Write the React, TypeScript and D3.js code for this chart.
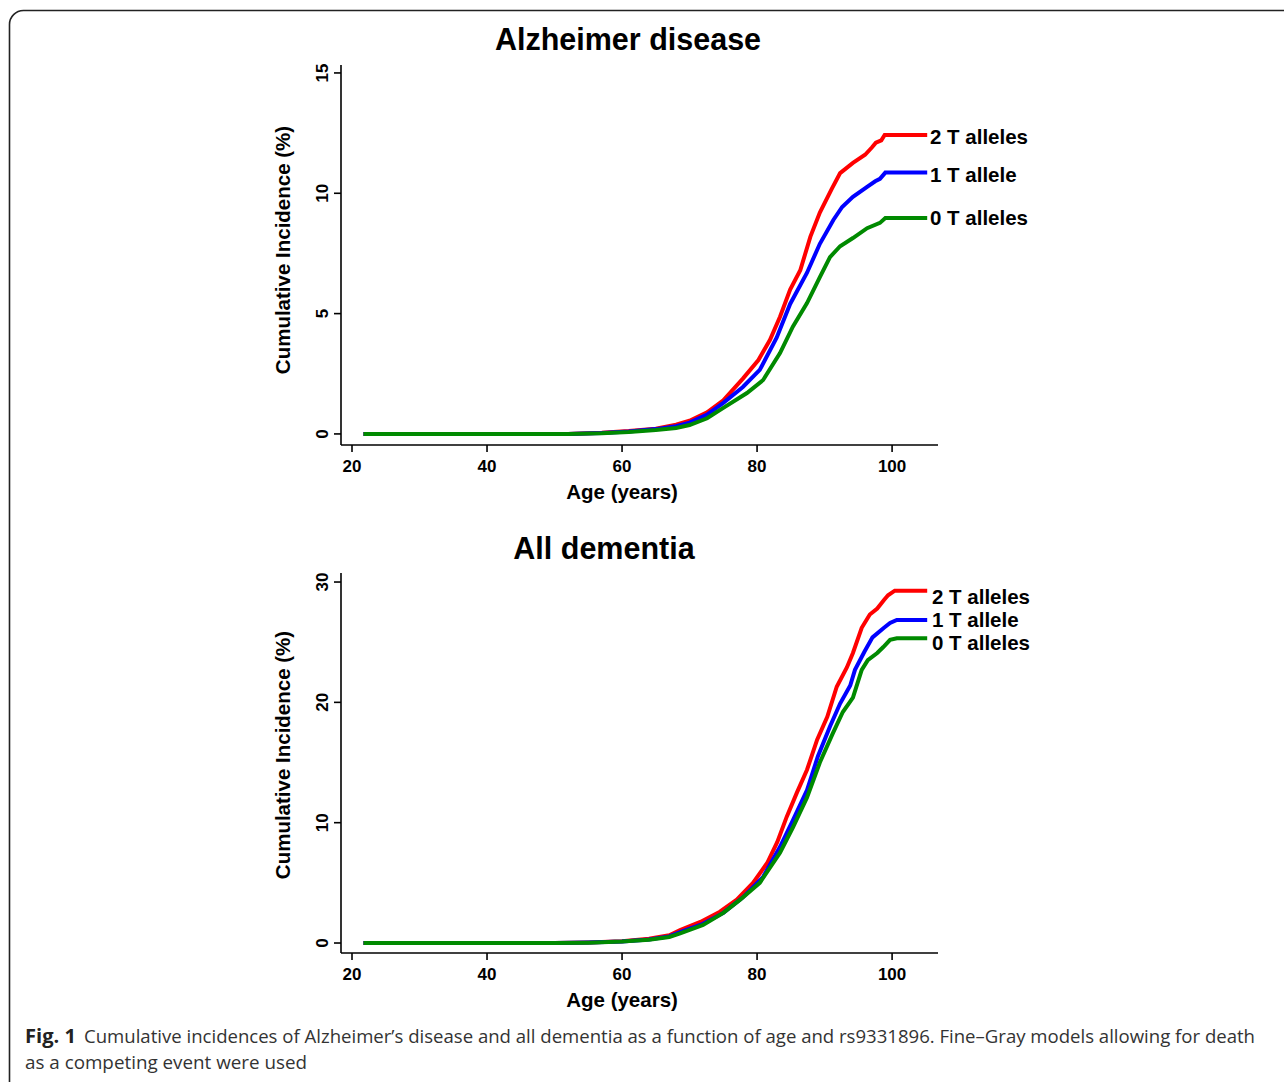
import React from "react";
import * as d3 from "d3";

type Pt = [number, number];

const xTicks = [20, 40, 60, 80, 100];
const adTicks = [0, 5, 10, 15];
const dmTicks = [0, 10, 20, 30];
const seriesLabels = ["2 T alleles", "1 T allele", "0 T alleles"];
const seriesColors = ["#ff0000", "#0000ff", "#008a00"];

// Alzheimer disease
const adTwo: Pt[] = [[21.7,0],[52,0],[57,0.05],[61,0.12],[65,0.22],[68,0.38],[70,0.55],[72.6,0.9],[75,1.4],[77.9,2.3],[80.2,3.07],[81.9,3.9],[83.4,4.87],[84.9,6.0],[86.4,6.8],[87.9,8.2],[89.3,9.2],[91.1,10.2],[92.3,10.84],[94.2,11.26],[96,11.6],[97,11.9],[97.6,12.1],[98.4,12.2],[98.9,12.42],[105.2,12.42]];
const adOne: Pt[] = [[21.7,0],[52,0],[57,0.04],[61,0.1],[65,0.2],[68,0.32],[70,0.47],[72.6,0.8],[75,1.29],[77.9,1.95],[80.4,2.66],[82.9,4.0],[84.9,5.4],[87.4,6.7],[89.3,7.9],[91.3,8.89],[92.6,9.43],[94.2,9.85],[96.3,10.27],[97.5,10.5],[98.2,10.6],[99,10.86],[105.2,10.86]];
const adZero: Pt[] = [[21.7,0],[52,0],[57,0.03],[61,0.08],[65,0.16],[68,0.25],[70,0.37],[72.6,0.65],[75,1.08],[78.5,1.7],[80.9,2.24],[83.4,3.36],[85.3,4.46],[87.4,5.44],[89.3,6.52],[90.8,7.35],[92.3,7.8],[94.2,8.14],[96.3,8.55],[98.2,8.77],[99,8.97],[105.2,8.97]];

// All dementia
const dmTwo: Pt[] = [[21.7,0],[50,0],[55,0.05],[60,0.15],[64,0.35],[67,0.65],[68.6,1.08],[71.6,1.75],[74.5,2.6],[77,3.6],[79.4,4.99],[81.5,6.65],[83,8.4],[84.4,10.5],[85.9,12.5],[87.4,14.4],[88.9,16.9],[90.4,18.8],[91.8,21.3],[93.3,22.9],[94.2,24.1],[95.5,26.2],[96.7,27.3],[97.8,27.8],[98.8,28.5],[99.4,28.9],[100.4,29.28],[105.2,29.28]];
const dmOne: Pt[] = [[21.7,0],[50,0],[55,0.04],[60,0.13],[64,0.3],[67,0.55],[68.6,0.9],[72,1.6],[75,2.5],[77.9,3.8],[80.9,5.5],[83.4,8.0],[85.3,10.2],[87.4,12.7],[89,15.5],[90.8,18.0],[92.3,19.9],[93.8,21.4],[94.5,22.7],[95.9,24.2],[97.1,25.4],[98.8,26.2],[99.7,26.6],[100.7,26.85],[105.2,26.85]];
const dmZero: Pt[] = [[21.7,0],[50,0],[55,0.03],[60,0.12],[64,0.28],[67,0.5],[68.6,0.8],[72,1.5],[75,2.5],[77.5,3.6],[80.4,5.0],[83.4,7.5],[85.3,9.6],[87.4,12.1],[89.3,15.0],[91.2,17.4],[92.7,19.2],[94.2,20.4],[95.5,22.7],[96.4,23.5],[97.8,24.1],[98.7,24.6],[99.7,25.2],[100.7,25.33],[105.2,25.33]];

const FONT = "'Liberation Sans', Arial, Helvetica, sans-serif";

const x = d3.scaleLinear().domain([18.37, 106.8]).range([341, 938]);

interface PanelProps {
  title: string;
  titleX: number;
  titleY: number;
  y: d3.ScaleLinear<number, number>;
  yTicks: number[];
  series: Pt[][];
  labelX: number;
  labelYs: number[];
  axisTitleY: number;
}

function Panel({ title, titleX, titleY, y, yTicks, series, labelX, labelYs, axisTitleY }: PanelProps) {
  const [y0, y1] = y.range();
  const [x0, x1] = x.range();
  const line = d3.line<Pt>().x((d) => x(d[0])).y((d) => y(d[1])).curve(d3.curveLinear);
  const order = [0, 1, 2];
  return (
    <g>
      <text x={titleX} y={titleY} textAnchor="middle" fontFamily={FONT} fontWeight="bold" fontSize={30.5} fill="#000">{title}</text>
      {/* axes */}
      <line x1={x0} x2={x0} y1={y0} y2={y1} stroke="#000" strokeWidth={1.6} />
      <line x1={x0} x2={x1} y1={y0} y2={y0} stroke="#000" strokeWidth={1.6} />
      {yTicks.map((t) => (
        <g key={"y" + t}>
          <line x1={x0 - 7} x2={x0} y1={y(t)} y2={y(t)} stroke="#000" strokeWidth={1.6} />
          <text transform={`translate(${x0 - 13},${y(t)}) rotate(-90)`} textAnchor="middle" fontFamily={FONT} fontWeight="bold" fontSize={17} fill="#000">{t}</text>
        </g>
      ))}
      {xTicks.map((t) => (
        <g key={"x" + t}>
          <line x1={x(t)} x2={x(t)} y1={y0} y2={y0 + 7} stroke="#000" strokeWidth={1.6} />
          <text x={x(t)} y={y0 + 27} textAnchor="middle" fontFamily={FONT} fontWeight="bold" fontSize={17} fill="#000">{t}</text>
        </g>
      ))}
      <text x={x(60)} y={y0 + 54} textAnchor="middle" fontFamily={FONT} fontWeight="bold" fontSize={20.5} fill="#000">Age (years)</text>
      <text transform={`translate(290,${axisTitleY}) rotate(-90)`} textAnchor="middle" fontFamily={FONT} fontWeight="bold" fontSize={20.5} fill="#000">Cumulative Incidence (%)</text>
      {order.map((i) => (
        <path key={"s" + i} d={line(series[i]) || ""} fill="none" stroke={seriesColors[i]} strokeWidth={4} strokeLinejoin="miter" />
      ))}
      {seriesLabels.map((l, i) => (
        <text key={"l" + i} x={labelX} y={labelYs[i]} dominantBaseline="central" fontFamily={FONT} fontWeight="bold" fontSize={20.5} fill="#000">{l}</text>
      ))}
    </g>
  );
}

export default function App() {
  const yAD = d3.scaleLinear().domain([-0.46, 15.33]).range([445, 65]);
  const yDM = d3.scaleLinear().domain([-0.83, 30.75]).range([953, 573]);
  return (
    <svg width={1284} height={1082} style={{ position: "absolute", left: 0, top: 0, display: "block", background: "#fff" }}>
      <rect x={0} y={0} width={1284} height={1082} fill="#fff" />
      <rect x={9.5} y={10.5} width={1320} height={1120} rx={14} ry={14} fill="none" stroke="#222" strokeWidth={1.6} />
      <Panel title="Alzheimer disease" titleX={628} titleY={50} y={yAD} yTicks={adTicks} series={[adTwo, adOne, adZero]} labelX={930} labelYs={[136, 174, 217]} axisTitleY={250} />
      <Panel title="All dementia" titleX={604} titleY={559} y={yDM} yTicks={dmTicks} series={[dmTwo, dmOne, dmZero]} labelX={932} labelYs={[596, 619, 642]} axisTitleY={755} />
      <text x={25} y={1043} fontFamily="'Open Sans', sans-serif" fontWeight="bold" fontSize={19} fill="#222" textLength={51} lengthAdjust="spacingAndGlyphs">Fig. 1</text>
      <text x={84} y={1043} fontFamily="'Open Sans', sans-serif" fontSize={19} fill="#333" textLength={1171} lengthAdjust="spacingAndGlyphs">Cumulative incidences of Alzheimer’s disease and all dementia as a function of age and rs9331896. Fine–Gray models allowing for death</text>
      <text x={25} y={1069} fontFamily="'Open Sans', sans-serif" fontSize={19} fill="#333" textLength={282} lengthAdjust="spacingAndGlyphs">as a competing event were used</text>
    </svg>
  );
}
